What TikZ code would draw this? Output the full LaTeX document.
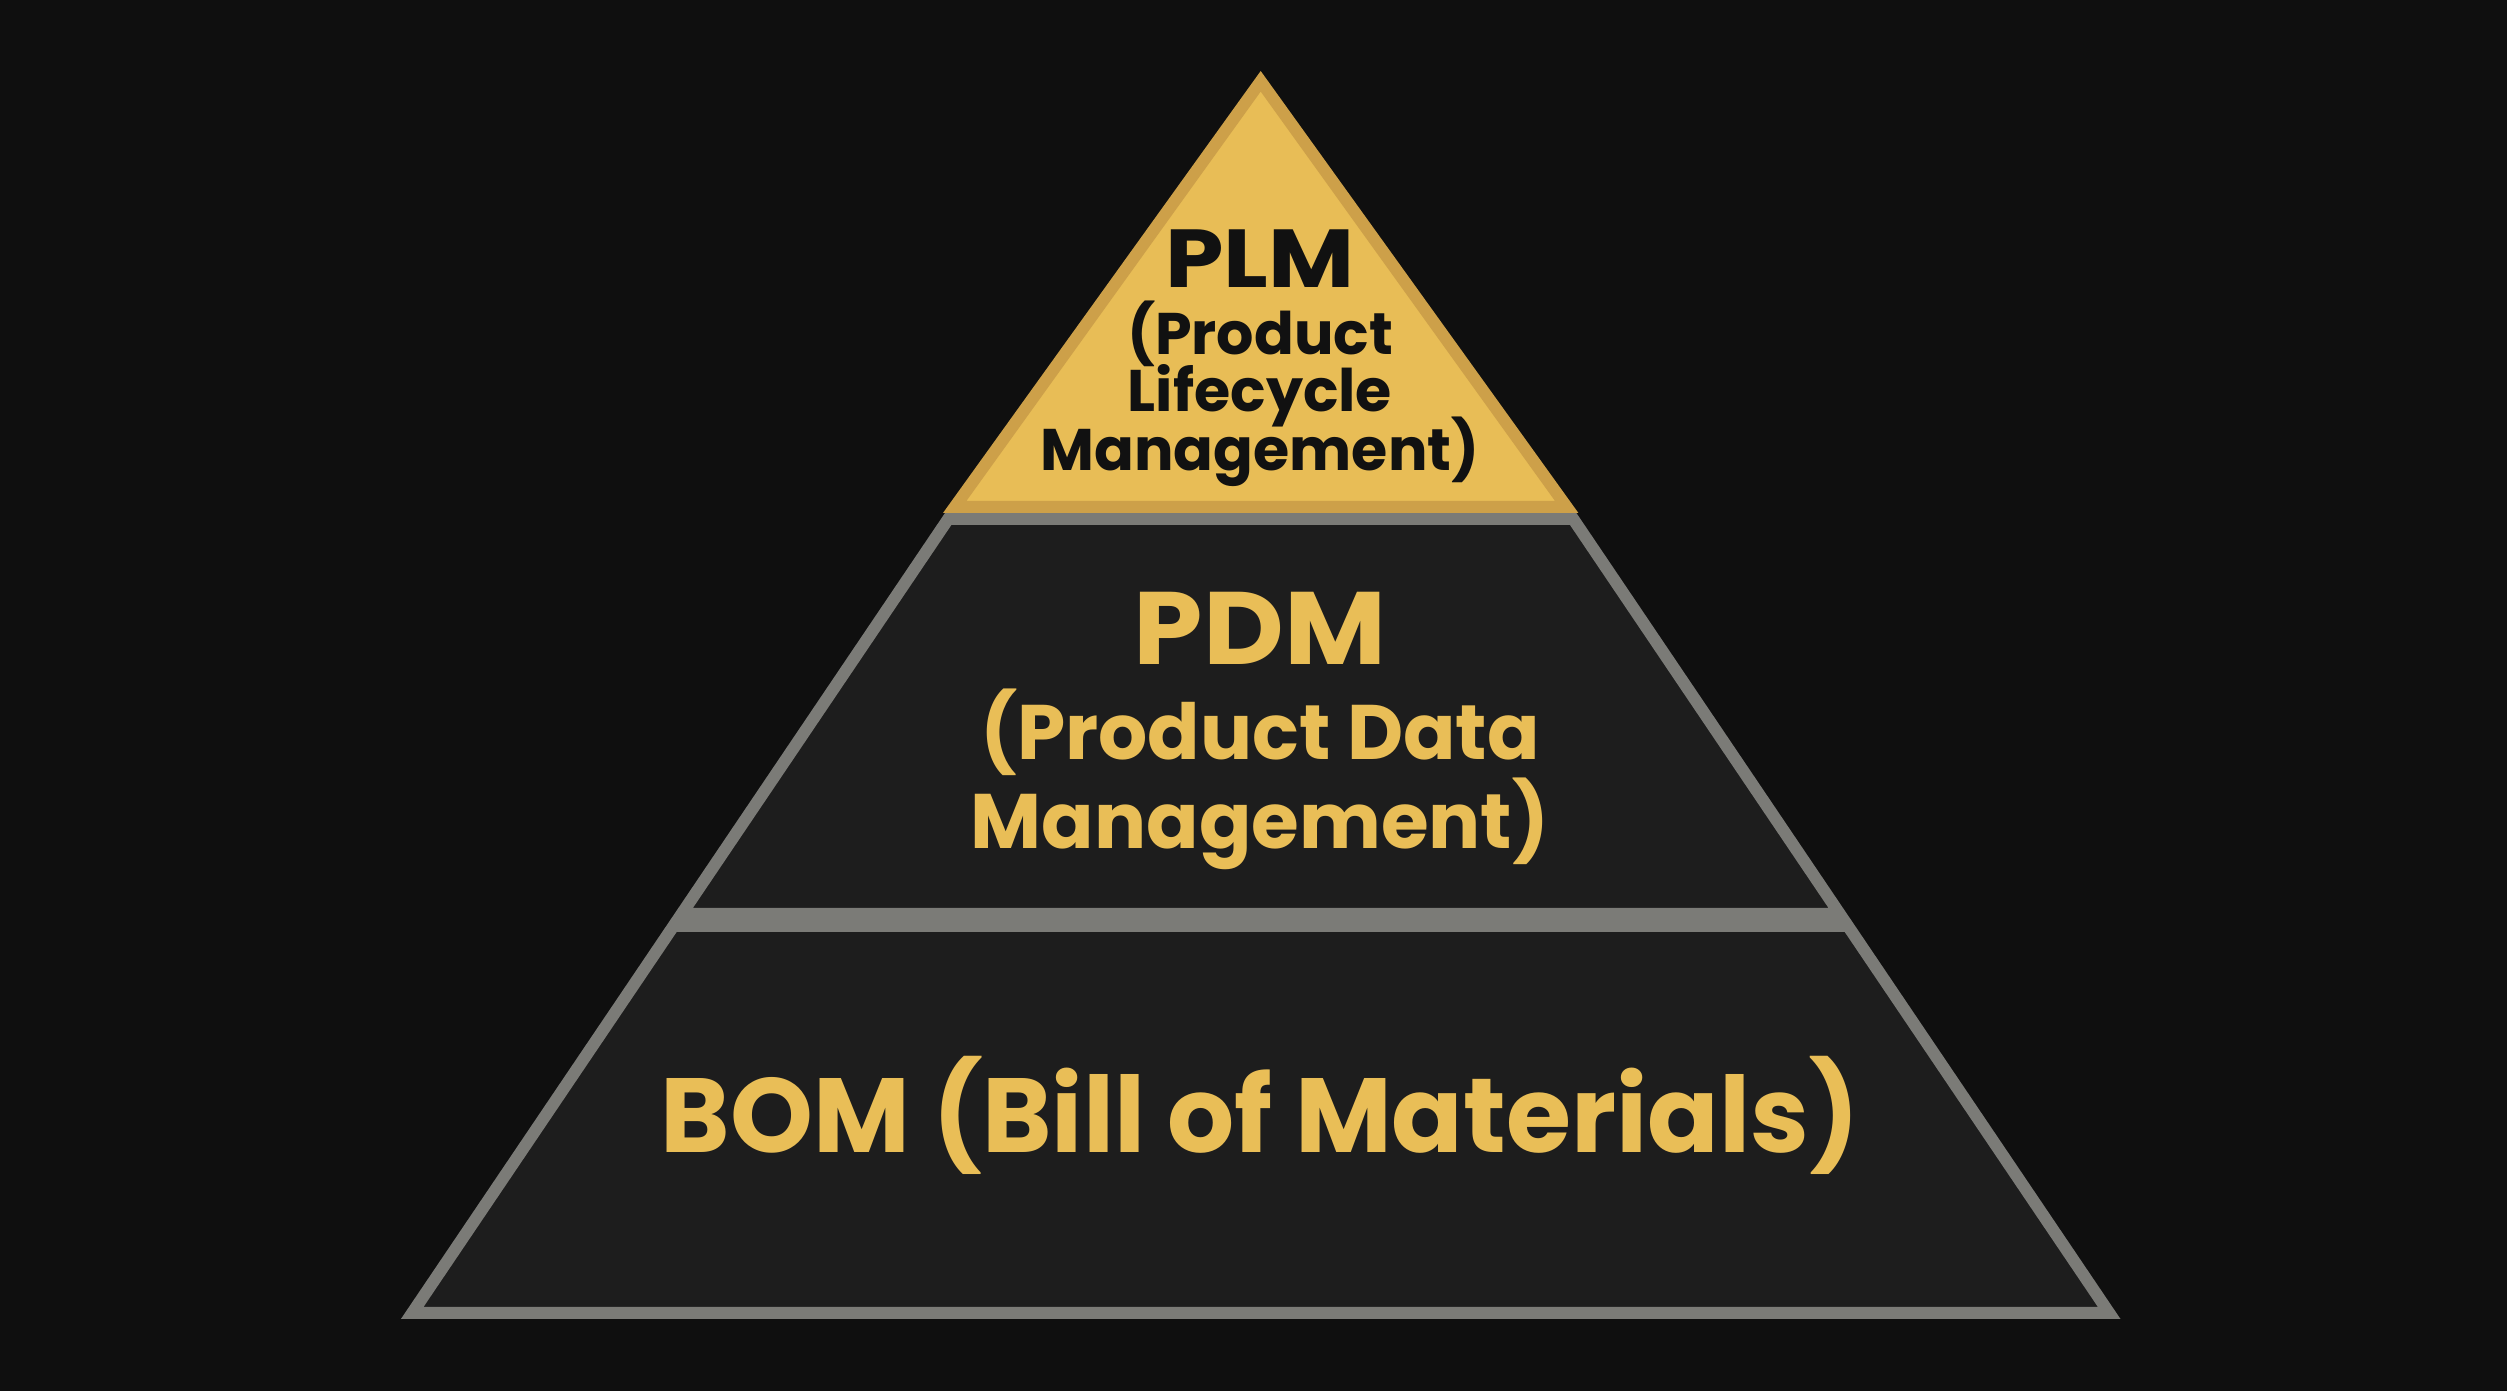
\documentclass[tikz,border=0pt]{standalone}
\usepackage{fontspec}
\setmainfont{Poppins}
\usepackage{tikz}
\definecolor{bgdark}{HTML}{0F0F0F}
\definecolor{layerfill}{HTML}{1D1D1D}
\definecolor{layeredge}{HTML}{7B7B77}
\definecolor{goldfill}{HTML}{E8BD56}
\definecolor{goldedge}{HTML}{CDA049}
\definecolor{goldtext}{HTML}{E9BE57}
\definecolor{inktext}{HTML}{111111}

\begin{document}
\begin{tikzpicture}[
    layer/.style={fill=layerfill, draw=layeredge, line width=0.12cm, line join=miter},
    apexlayer/.style={fill=goldfill, draw=goldedge, line width=0.12cm, line join=miter},
    bigdark/.style={anchor=base, text=inktext, inner sep=0pt, xscale=1.14, transform shape, font=\bfseries\fontsize{23.4}{28}\selectfont},
    smalldark/.style={anchor=base, text=inktext, inner sep=0pt, font=\bfseries\fontsize{16.7}{20}\selectfont},
    biggold/.style={anchor=base, text=goldtext, inner sep=0pt, xscale=1.08, transform shape, font=\bfseries\fontsize{29.3}{35}\selectfont},
    smallgold/.style={anchor=base, text=goldtext, inner sep=0pt, font=\bfseries\fontsize{22}{26}\selectfont},
    widegold/.style={anchor=base, text=goldtext, inner sep=0pt, font=\bfseries\fontsize{30}{36}\selectfont}]
    \useasboundingbox (0,0) rectangle (25.07,13.91);
    \fill[bgdark] (0,0) rectangle (25.07,13.91);

    \draw[layer] (4.122,0.78) -- (21.092,0.78) -- (18.479,4.65) -- (6.735,4.65) -- cycle;
    \draw[layer] (6.816,4.77) -- (18.398,4.77) -- (15.732,8.72) -- (9.482,8.72) -- cycle;
    \draw[apexlayer] (9.547,8.84) -- (15.667,8.84) -- (12.607,13.097) -- cycle;

    \node[bigdark] (plm) at (12.60,11.03) {PLM};
    \node[smalldark] (plmline1) at (12.60,10.36) {(Product};
    \node[smalldark] (plmline2) at (12.60,9.79) {Lifecycle};
    \node[smalldark] (plmline3) at (12.60,9.20) {Management)};

    \node[biggold] (pdm) at (12.60,7.26) {PDM};
    \node[smallgold] (pdmline1) at (12.60,6.31) {(Product Data};
    \node[smallgold] (pdmline2) at (12.60,5.42) {Management)};

    \node[widegold] (bom) at (12.60,2.38) {BOM (Bill of Materials)};
\end{tikzpicture}
\end{document}
